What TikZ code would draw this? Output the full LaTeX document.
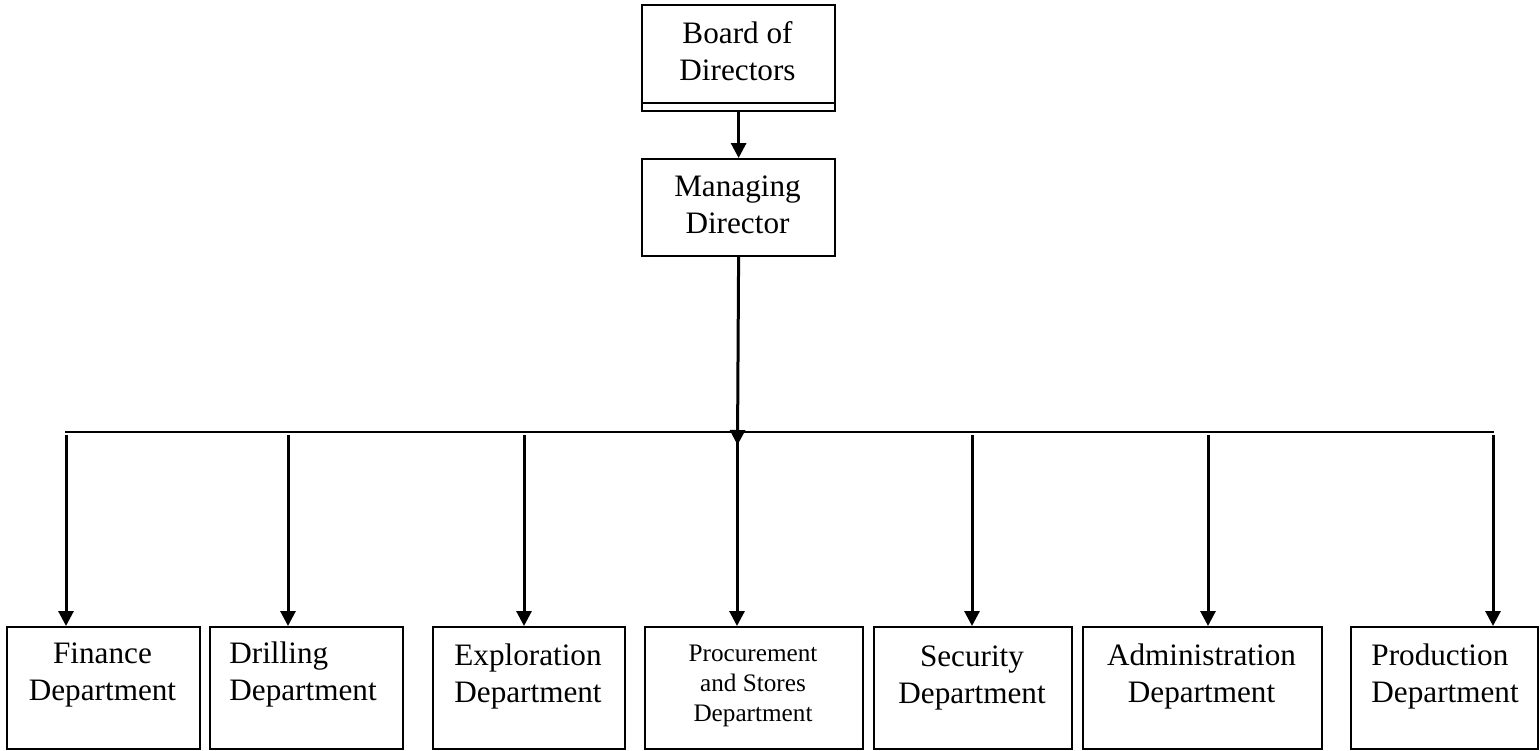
\documentclass[tikz,border=0pt]{standalone}
\usepackage{fontspec}
\setmainfont{Liberation Serif}
\usetikzlibrary{arrows.meta}
\begin{document}
\begin{tikzpicture}[x=0.5pt,y=-0.5pt,
  orgbox/.style={draw, line width=1.1pt, inner sep=0pt, anchor=north west},
  lbl/.style={inner sep=0pt, anchor=base, align=center,
    font=\fontsize{15.6}{18.5}\selectfont},
  lblleft/.style={lbl, align=left},
  lblsmall/.style={lbl, font=\fontsize{12.6}{15}\selectfont},
  link/.style={line width=1.5pt, -{Triangle[width=7.5pt,length=7.5pt]}},
  bus/.style={line width=1pt}]
\useasboundingbox (0,0) rectangle (1540,750);

% top of the chart (labels are placed by the baseline of their last line)
\node[orgbox, minimum width=96.5pt, minimum height=53pt] (bod) at (641,4) {};
\draw[line width=1.1pt] ([yshift=4.5pt]bod.south west) -- ([yshift=4.5pt]bod.south east);
\node[lbl] (bodt) at (737.5,80) {Board of\\Directors};
\node[orgbox, minimum width=96.5pt, minimum height=48.5pt] (md) at (641,158) {};
\node[lbl] (mdt) at (737.5,233) {Managing\\Director};
\draw[link] (bod.south) -- (md.north);

% distribution bus
\coordinate (busL) at (65,432);
\coordinate (busR) at (1494,432);
\coordinate (hub) at (737.5,445);
\draw[bus] (busL) -- (busR);
\draw[link] (md.south) -- (hub);

% departments
\node[orgbox, minimum width=96.5pt, minimum height=61pt] (fin) at (6,626) {};
\node[orgbox, minimum width=96.5pt, minimum height=61pt] (dri) at (209,626) {};
\node[orgbox, minimum width=96pt, minimum height=61pt] (exp) at (432,626) {};
\node[orgbox, minimum width=109pt, minimum height=61pt] (pro) at (644,626) {};
\node[orgbox, minimum width=99pt, minimum height=61pt] (sec) at (873,626) {};
\node[orgbox, minimum width=119.5pt, minimum height=61pt] (adm) at (1082,626) {};
\node[orgbox, minimum width=93.5pt, minimum height=61pt] (prd) at (1350,626) {};

\node[lbl] (fint) at (102.5,700) {Finance\\Department};
\node[lblleft, anchor=base west] (drit) at (229,700) {Drilling\\Department};
\node[lbl] (expt) at (528,702) {Exploration\\Department};
\node[lblsmall] (prot) at (753,721) {Procurement\\and Stores\\Department};
\node[lbl] (sect) at (972,703) {Security\\Department};
\node[lbl] (admt) at (1201.5,702) {Administration\\Department};
\node[lblleft, anchor=base west] (prdt) at (1371,702) {Production\\Department};

% drops from the bus
\coordinate (d1) at (66,435);
\coordinate (d2) at (288,435);
\coordinate (d3) at (524,435);
\coordinate (d4) at (737,432);
\coordinate (d5) at (972,435);
\coordinate (d6) at (1208,435);
\coordinate (d7) at (1493,435);
\draw[link] (d1) -- (d1 |- fin.north);
\draw[link] (d2) -- (d2 |- dri.north);
\draw[link] (d3) -- (d3 |- exp.north);
\draw[link] (d4) -- (d4 |- pro.north);
\draw[link] (d5) -- (d5 |- sec.north);
\draw[link] (d6) -- (d6 |- adm.north);
\draw[link] (d7) -- (d7 |- prd.north);
\end{tikzpicture}
\end{document}
